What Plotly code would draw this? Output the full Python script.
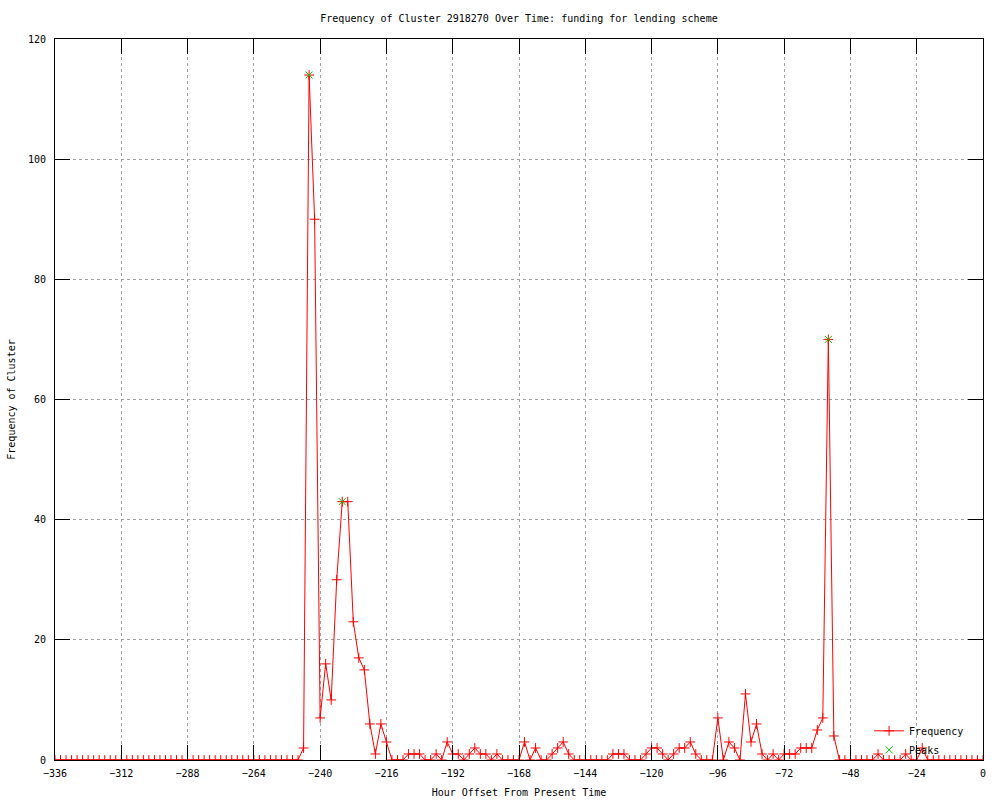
import plotly.graph_objects as go

hours = list(range(-336, 1, 2))
freq = [
    0, 0, 0, 0, 0, 0, 0, 0, 0, 0, 0, 0,          # -336 .. -314
    0, 0, 0, 0, 0, 0, 0, 0, 0, 0, 0, 0,          # -312 .. -290
    0, 0, 0, 0, 0, 0, 0, 0, 0, 0, 0, 0,          # -288 .. -266
    0, 0, 0, 0, 0, 0, 0, 0, 0, 2, 114, 90,       # -264 .. -242
    7, 16, 10, 30, 43, 43, 23, 17, 15, 6, 1, 6,  # -240 .. -218
    3, 0, 0, 0, 1, 1, 1, 0, 0, 1, 0, 3,          # -216 .. -194
    1, 1, 0, 1, 2, 1, 1, 0, 1, 0, 0, 0,          # -192 .. -170
    0, 3, 0, 2, 0, 0, 1, 2, 3, 1, 0, 0,          # -168 .. -146
    0, 0, 0, 0, 0, 1, 1, 1, 0, 0, 0, 1,          # -144 .. -122
    2, 2, 1, 0, 1, 2, 2, 3, 1, 0, 0, 0,          # -120 .. -98
    7, 0, 3, 2, 0, 11, 3, 6, 1, 0, 1, 0,         # -96 .. -74
    1, 1, 1, 2, 2, 2, 5, 7, 70, 4, 0, 0,         # -72 .. -50
    0, 0, 0, 0, 0, 1, 0, 0, 0, 0, 1, 0,          # -48 .. -26
    0, 2, 0, 0, 0, 0, 0, 0, 0, 0, 0, 0,          # -24 .. -2
    0,                                           # 0
]
peak_hours = [-244, -232, -56]
peak_values = [114, 43, 70]

x_ticks = list(range(-336, 1, 24))
y_ticks = list(range(0, 121, 20))

title_text = "Frequency of Cluster 2918270 Over Time: funding for lending scheme"
x_title = "Hour Offset From Present Time"
y_title = "Frequency of Cluster"

FONT = "DejaVu Sans Mono"

fig = go.Figure()
fig.add_trace(go.Scatter(
    x=hours, y=freq, mode="lines+markers", name="Frequency",
    line=dict(color="#ff0000", width=1),
    marker=dict(symbol="cross-thin-open", size=7, color="#ff0000",
                line=dict(color="#ff0000", width=1)),
))
fig.add_trace(go.Scatter(
    x=peak_hours, y=peak_values, mode="markers", name="Peaks",
    marker=dict(symbol="x-thin-open", size=7, color="#00c000",
                line=dict(color="#00c000", width=1)),
))

axis_common = dict(
    showline=True, linecolor="black", linewidth=1, mirror="ticks",
    ticks="inside", ticklen=15, tickcolor="black", tickwidth=1,
    showgrid=True, gridcolor="#a0a0a0", griddash="dot", gridwidth=1,
    zeroline=False, automargin=False,
    tickfont=dict(family=FONT, size=10, color="black"),
)

fig.update_layout(
    width=1000, height=800,
    paper_bgcolor="white", plot_bgcolor="white",
    margin=dict(l=55, r=17, t=39, b=40),
    title=dict(text=title_text, x=0.519, xanchor="center", xref="container",
               y=0.9775, yanchor="middle", yref="container", automargin=False,
               font=dict(family=FONT, size=10, color="black")),
    xaxis=dict(range=[-336, 0], tickvals=x_ticks, ticklabelstandoff=4,
               title=dict(text=x_title, font=dict(family=FONT, size=10, color="black"),
                          standoff=10),
               **axis_common),
    yaxis=dict(range=[0, 120], tickvals=y_ticks, ticklabelstandoff=6,
               title=dict(text=y_title, font=dict(family=FONT, size=10, color="black"),
                          standoff=10),
               **axis_common),
    legend=dict(x=0.985, y=-0.006, xanchor="right", yanchor="bottom",
                bgcolor="rgba(0,0,0,0)", borderwidth=0,
                font=dict(family=FONT, size=10, color="black"),
                tracegroupgap=0, itemwidth=30),
    showlegend=True,
)

fig.write_html("out.html", config={"displayModeBar": False},
               post_script="document.body.style.margin='0';")
